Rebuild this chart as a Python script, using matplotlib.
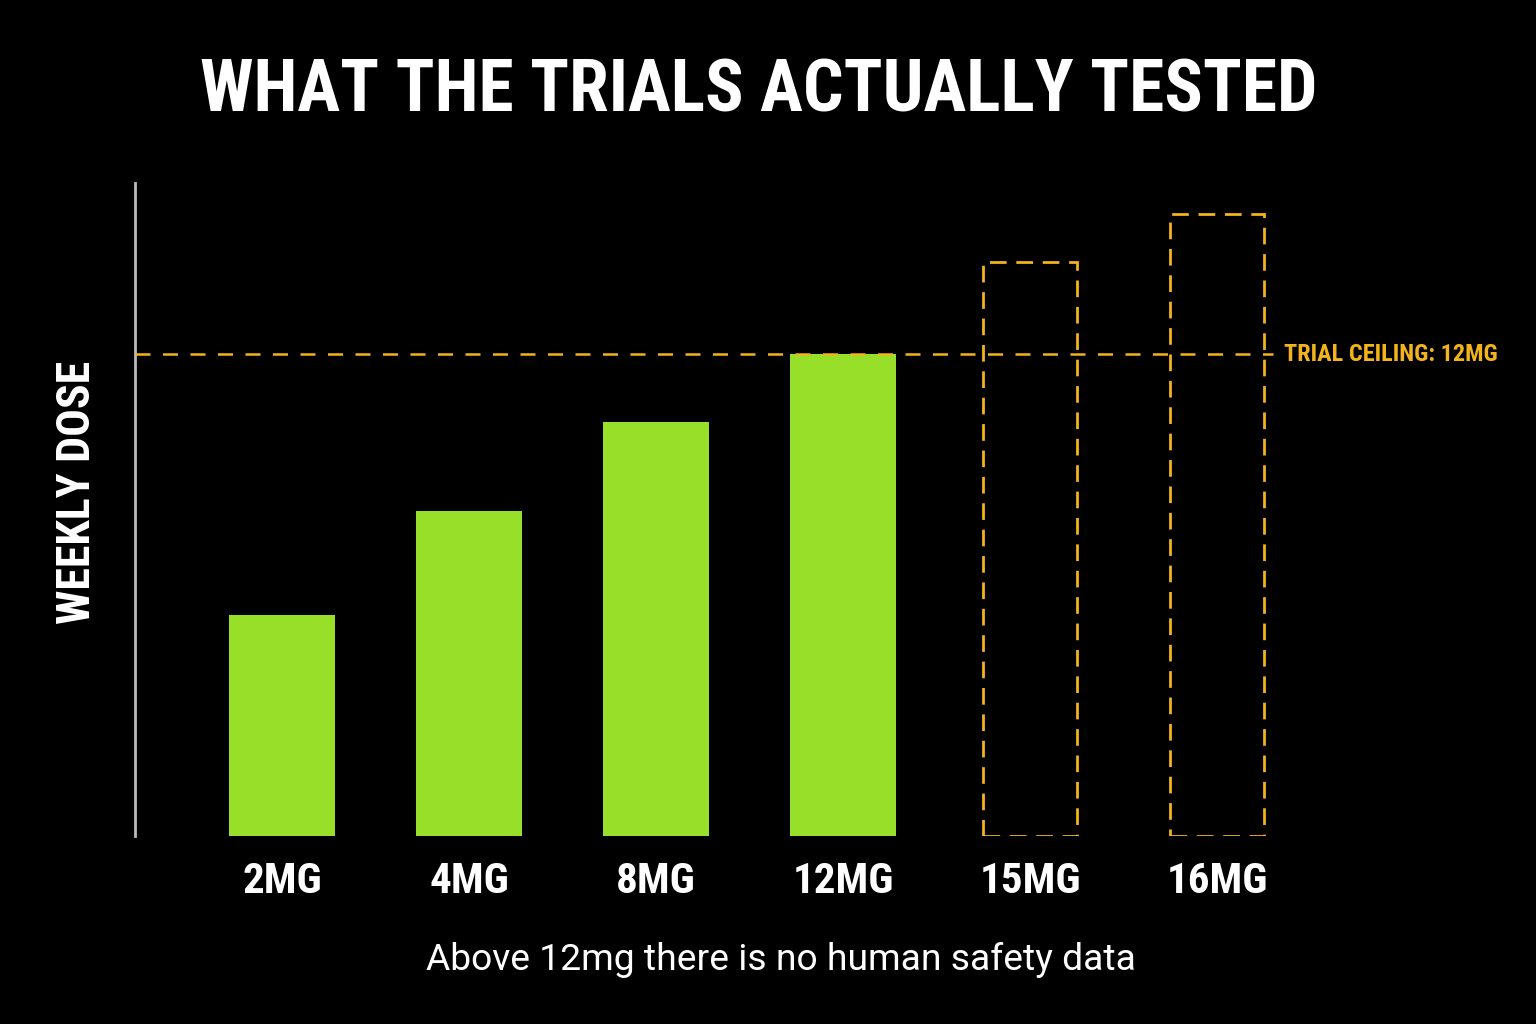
import matplotlib
matplotlib.use("Agg")
import matplotlib.pyplot as plt
from matplotlib import font_manager

# dose groups and relative bar heights (12mg bar = 12 units)
doses = ['2MG', '4MG', '8MG', '12MG', '15MG', '16MG']
heights = [5.5, 8.1, 10.3, 12.0, 14.3, 15.5]
tested = [True, True, True, True, False, False]
ceiling = 12.0

green = '#98DF2A'
amber = '#F2B31C'


def pick_font(names):
    for n in names:
        try:
            font_manager.findfont(n, fallback_to_default=False)
            return n
        except Exception:
            pass
    return 'DejaVu Sans'


cond = pick_font(['Roboto Condensed', 'Liberation Sans Narrow', 'Roboto', 'DejaVu Sans'])
body = pick_font(['Roboto', 'Open Sans', 'DejaVu Sans'])

fig = plt.figure(figsize=(15.36, 10.24), dpi=100, facecolor='black')
ax = fig.add_axes([135 / 1536, 188 / 1024, 1145 / 1536, 653 / 1024])
ax.set_facecolor('black')

x = list(range(len(doses)))
for i in x:
    if tested[i]:
        ax.bar(i, heights[i], width=0.57, color=green, zorder=2)
    else:
        ax.bar(i, heights[i], width=0.5, facecolor='none', edgecolor=amber,
               linewidth=2.0, linestyle=(0, (6, 3.5)), zorder=3)

ax.axhline(ceiling, xmin=0, xmax=(5.3 + 0.786) / (5.337 + 0.786), color=amber,
           linewidth=1.8, linestyle=(0, (6, 5)), zorder=4)
ax.text(5.36, ceiling, 'TRIAL CEILING: 12MG', color=amber, fontsize=17.5,
        fontweight='bold', family=cond, va='center', ha='left', clip_on=False)

ax.set_xlim(-0.786, 5.337)
ax.set_ylim(0, 16.26)
ax.set_xticks(x)
ax.set_xticklabels(doses)
ax.tick_params(axis='x', length=0, pad=18, labelsize=31, colors='white')
for lbl in ax.get_xticklabels():
    lbl.set_fontweight('bold')
    lbl.set_family(cond)
ax.set_yticks([])
for s in ['top', 'right', 'bottom']:
    ax.spines[s].set_visible(False)
ax.spines['left'].set_color('#BBBBBB')
ax.spines['left'].set_linewidth(2)

fig.text(759 / 1536, 1 - 92 / 1024, 'WHAT THE TRIALS ACTUALLY TESTED', color='white',
         fontsize=51.5, fontweight='bold', family=cond, ha='center', va='center')
fig.text(77 / 1536, 1 - 492 / 1024, 'WEEKLY DOSE', color='white', fontsize=33,
         fontweight='bold', family=cond, rotation=90, ha='center', va='center')
fig.text(781 / 1536, 1 - 960 / 1024, 'Above 12mg there is no human safety data',
         color='white', fontsize=26.8, family=body, ha='center', va='center')

fig.savefig('out.png', dpi=100, facecolor='black')
